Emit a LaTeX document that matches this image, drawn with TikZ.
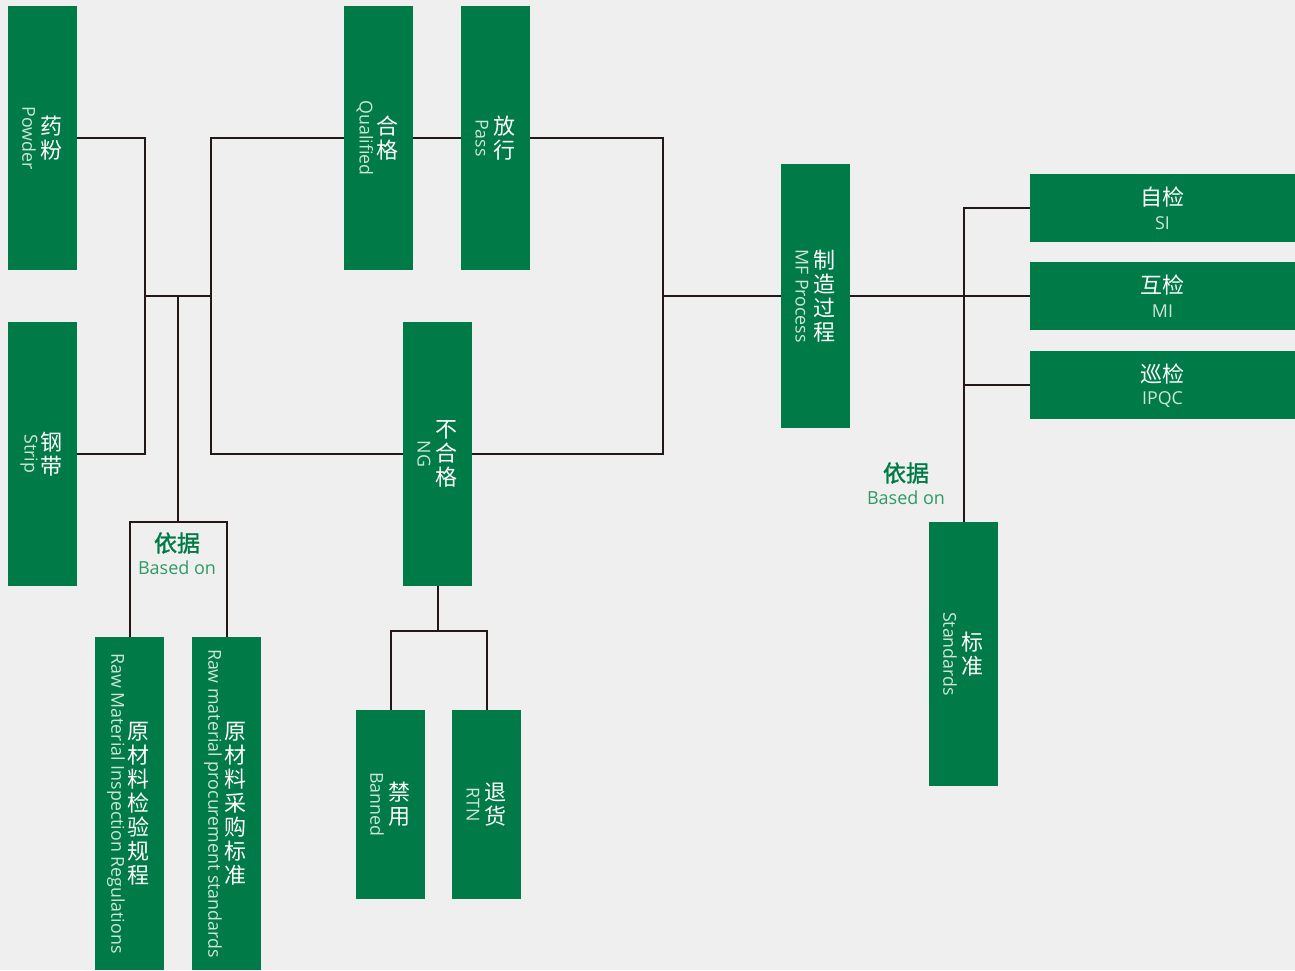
\documentclass[tikz,border=0pt]{standalone}
\usepackage{fontspec}
\setmainfont{Open Sans}
\newfontfamily\cjk{Noto Sans CJK SC}
\newfontfamily\cjkheavy[FakeBold=1.2]{Noto Sans CJK SC}

\definecolor{qcgreen}{HTML}{007A46}
\definecolor{qcback}{HTML}{EFEFEF}
\definecolor{qcline}{HTML}{231815}
\definecolor{qcsub}{HTML}{CDE6D6}
\definecolor{qclabel}{HTML}{2E9A66}

\tikzset{
  qcbox/.style={fill=qcgreen, draw=none, inner sep=0pt},
  cntext/.style={text=white, font=\cjk\fontsize{22}{24}\selectfont, align=center, inner sep=0pt},
  entext/.style={text=qcsub, font=\fontsize{17.8}{20}\selectfont, inner sep=0pt},
  lbcn/.style={text=qcgreen, font=\cjkheavy\fontsize{23}{26}\selectfont, inner sep=0pt},
  lben/.style={text=qclabel, font=\fontsize{18}{20}\selectfont, inner sep=0pt},
  link/.style={qcline, line width=2pt}
}

\newcommand{\qcvert}[6]{%
  % Vertical box: #1=name, #2=x, #3=y-center, #4=height, #5=chinese, #6=english
  \node[qcbox, minimum width=69pt, minimum height=#4] (#1) at (#2,#3) {};
  \node[cntext] (#1-cn) at ([xshift=9pt]#1.center) {#5};
  \node[entext, rotate=-90] (#1-en) at ([xshift=-13.5pt]#1.center) {#6};%
}
\newcommand{\qchorz}[5]{%
  % Horizontal box: #1=name, #2=x, #3=y-center, #4=chinese, #5=english
  \node[qcbox, minimum width=265pt, minimum height=68pt] (#1) at (#2,#3) {};
  \node[cntext] (#1-cn) at ([yshift=11pt]#1.center) {#4};
  \node[entext] (#1-en) at ([yshift=-15pt]#1.center) {#5};%
}

\begin{document}
\begin{tikzpicture}[x=1pt, y=-1pt]

% ================================================================
% Canvas (pixel grid, y downwards)
% ================================================================
\useasboundingbox (0,0) rectangle (1295,970);
\fill[qcback] (0,0) rectangle (1295,970);

% ================================================================
% Raw material
% ================================================================
\qcvert{powder}{42.5}{138}{264pt}{药\\粉}{Powder}
\qcvert{strip}{42.5}{454}{264pt}{钢\\带}{Strip}

% ================================================================
% Incoming inspection result
% ================================================================
\qcvert{qualified}{378.5}{138}{264pt}{合\\格}{Qualified}
\qcvert{pass}{495.5}{138}{264pt}{放\\行}{Pass}
\qcvert{ng}{437.5}{454}{264pt}{不\\合\\格}{NG}
\qcvert{banned}{390.5}{804.5}{189pt}{禁\\用}{Banned}
\qcvert{rtn}{486.5}{804.5}{189pt}{退\\货}{RTN}

% ================================================================
% Basis documents
% ================================================================
\qcvert{inspreg}{129.5}{803.5}{333pt}{原\\材\\料\\检\\验\\规\\程}{Raw Material Inspection Regulations}
\qcvert{procstd}{226.5}{803.5}{333pt}{原\\材\\料\\采\\购\\标\\准}{Raw material procurement standards}
\node[lbcn] (basis1-cn) at (177,543) {依据};
\node[lben] (basis1-en) at (177,568) {Based on};

% ================================================================
% Manufacturing process and checks
% ================================================================
\qcvert{mfproc}{815.5}{296}{264pt}{制\\造\\过\\程}{MF Process}
\qchorz{si}{1162.5}{208}{自检}{SI}
\qchorz{mi}{1162.5}{296}{互检}{MI}
\qchorz{ipqc}{1162.5}{385}{巡检}{IPQC}
\qcvert{standards}{963.5}{654}{264pt}{标\\准}{Standards}
\node[lbcn] (basis2-cn) at (906,473) {依据};
\node[lben] (basis2-en) at (906,498) {Based on};

% ================================================================
% Connectors
% ================================================================
\coordinate (rawjoin) at (145,296);
\coordinate (splitq) at (211,296);
\coordinate (basistap) at (178,296);
\coordinate (basisfork) at (178,522);
\coordinate (mergemf) at (663,296);
\coordinate (ngfork) at (437.5,631);

\draw[link] (powder.east) -| (rawjoin) |- (strip.east);
\draw[link] (rawjoin) -- (splitq);
\draw[link] (qualified.west) -| (splitq) |- (ng.west);
\draw[link] (qualified.east) -- (pass.west);
\draw[link] (pass.east) -| (mergemf) |- (ng.east);
\draw[link] (mergemf) -- (mfproc.west);

% basis of incoming inspection
\draw[link] (basistap) -- (basisfork);
\draw[link] (inspreg.north) |- (basisfork) -| (procstd.north);

% handling of NG material
\draw[link] (ng.south) -- (ngfork);
\draw[link] (banned.north) |- (ngfork) -| (rtn.north);

% checks during manufacturing
\draw[link] (mfproc.east) -- (mi.west);
\draw[link] (si.west) -| (standards.north);
\draw[link] (ipqc.west) -- (ipqc.west -| standards.north);

\end{tikzpicture}
\end{document}
